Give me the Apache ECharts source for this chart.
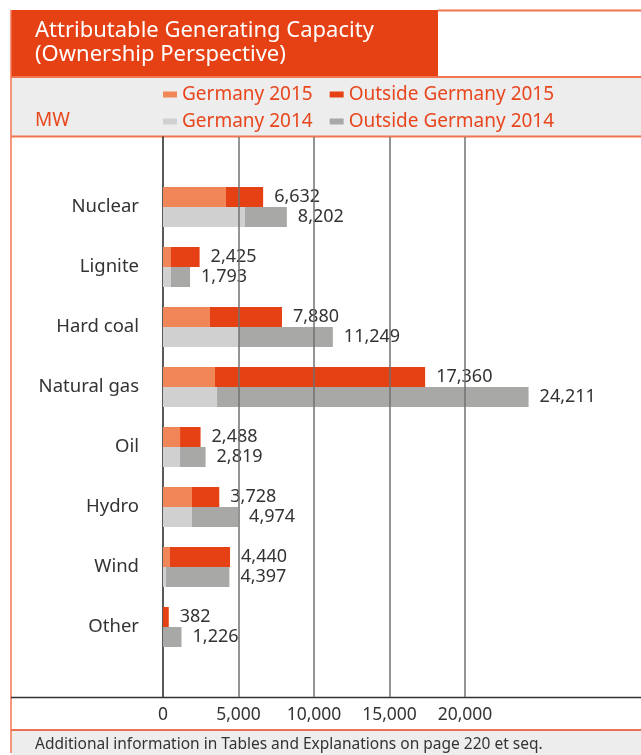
<!DOCTYPE html>
<html>
<head>
<meta charset="utf-8">
<script src="https://cdn.jsdelivr.net/npm/echarts@6/dist/echarts.min.js"></script>
<style>
  html, body { margin: 0; padding: 0; background: #fff; }
  #chart { width: 641px; height: 755px; }
</style>
</head>
<body>
<div id="chart"></div>
<script>
// capacity in MW
const categories = ["Nuclear", "Lignite", "Hard coal", "Natural gas", "Oil", "Hydro", "Wind", "Other"];
const germany2015 = [4170, 530, 3110, 3440, 1130, 1920, 460, 0];
const outside2015 = [2462, 1895, 4770, 13920, 1358, 1808, 3980, 382];
const germany2014 = [5430, 530, 5030, 3580, 1130, 1920, 200, 0];
const outside2014 = [2772, 1263, 6219, 20631, 1689, 3054, 4197, 1226];
const total2015 = [6632, 2425, 7880, 17360, 2488, 3728, 4440, 382];
const total2014 = [8202, 1793, 11249, 24211, 2819, 4974, 4397, 1226];
const gridTicks = [5000, 10000, 15000, 20000];

const font = "Noto Sans";
const orange = "#E64114";
const frame = "#F07550";
const axisMax = 31656;

const fmt = (v) => v.toLocaleString("en-US");

const valueLabel = (totals) => ({
  show: true,
  position: "right",
  distance: 8,
  fontFamily: font,
  fontSize: 18,
  color: "#333",
  backgroundColor: "#fff",
  padding: [1, 3],
  formatter: (p) => fmt(totals[p.dataIndex]),
});

const chart = echarts.init(document.getElementById("chart"));
chart.setOption({
  animation: false,
  textStyle: { fontFamily: font },
  title: {
    text: "Attributable Generating Capacity\n(Ownership Perspective)",
    left: 35,
    top: 19,
    padding: 0,
    textStyle: { color: "#fff", fontSize: 22, fontWeight: "normal", lineHeight: 24, fontFamily: font },
  },
  legend: [
    {
      data: ["Germany 2015", "Outside Germany 2015"],
      left: 163, top: 85, padding: 0,
      icon: "rect", itemWidth: 14, itemHeight: 6, itemGap: 17,
      textStyle: { color: "#E8461D", fontSize: 19, fontFamily: font },
    },
    {
      data: ["Germany 2014", "Outside Germany 2014"],
      left: 163, top: 112, padding: 0,
      icon: "rect", itemWidth: 14, itemHeight: 6, itemGap: 17,
      textStyle: { color: "#E8461D", fontSize: 19, fontFamily: font },
    },
  ],
  graphic: [
    { type: "rect", z: -10, shape: { x: 11, y: 10, width: 427, height: 67 }, style: { fill: orange } },
    { type: "rect", z: -10, shape: { x: 11, y: 77, width: 630, height: 59 }, style: { fill: "#EDEDED" } },
    { type: "rect", z: -10, shape: { x: 11, y: 730, width: 630, height: 25 }, style: { fill: "#EDEDED" } },
    { type: "line", z: -5, shape: { x1: 438, y1: 10.5, x2: 641, y2: 10.5 }, style: { stroke: frame, lineWidth: 2 } },
    { type: "line", z: -5, shape: { x1: 11, y1: 77, x2: 641, y2: 77 }, style: { stroke: frame, lineWidth: 2 } },
    { type: "line", z: -5, shape: { x1: 11, y1: 136.5, x2: 641, y2: 136.5 }, style: { stroke: frame, lineWidth: 2 } },
    { type: "line", z: -5, shape: { x1: 11, y1: 730, x2: 641, y2: 730 }, style: { stroke: "#E8461D", lineWidth: 1.5 } },
    { type: "line", z: -5, shape: { x1: 11, y1: 10, x2: 11, y2: 753 }, style: { stroke: frame, lineWidth: 1.5 } },
    { type: "line", z: 5, shape: { x1: 11, y1: 697.5, x2: 641, y2: 697.5 }, style: { stroke: "#333", lineWidth: 1.5 } },
    { type: "text", x: 35, y: 121, style: { text: "MW", fill: "#E8461D", fontSize: 19, fontFamily: font, verticalAlign: "middle" } },
    { type: "text", x: 35, y: 745, style: { text: "Additional information in Tables and Explanations on page 220 et seq.", fill: "#333", fontSize: 15.5, fontFamily: font, verticalAlign: "middle" } },
  ],
  grid: [
    { left: 163, right: 0, top: 177, bottom: 98 },
    { left: 163, right: 0, top: 137, bottom: 58 },
  ],
  xAxis: [
    { type: "value", min: 0, max: axisMax, show: false },
    {
      type: "value", gridIndex: 1, min: 0, max: axisMax, interval: 5000,
      axisLine: { show: false }, axisTick: { show: false }, splitLine: { show: false },
      axisLabel: {
        margin: 9, fontSize: 17.5, color: "#333", fontFamily: font, showMaxLabel: false,
        formatter: (v) => (v > 20000 ? "" : fmt(v)),
      },
    },
  ],
  yAxis: [
    {
      type: "category", data: categories, inverse: true,
      axisLine: { show: false }, axisTick: { show: false },
      axisLabel: { margin: 24, fontSize: 18.5, color: "#333", fontFamily: font },
    },
    {
      type: "value", gridIndex: 1, min: 0, max: 1,
      axisLine: { show: true, lineStyle: { color: "#222", width: 1.5 } },
      axisTick: { show: false }, axisLabel: { show: false }, splitLine: { show: false },
    },
  ],
  series: [
    {
      type: "line", xAxisIndex: 1, yAxisIndex: 1, z: 1, silent: true,
      data: [[0, 0]], showSymbol: false, lineStyle: { opacity: 0 },
      markLine: {
        silent: true, symbol: "none", label: { show: false },
        lineStyle: { color: "#707070", width: 1.5, type: "solid" },
        data: gridTicks.map((v) => ({ xAxis: v })),
      },
    },
    { name: "Germany 2015", type: "bar", stack: "y2015", z: 3, barWidth: 20, barGap: "0%", itemStyle: { color: "#F08657" }, data: germany2015 },
    { name: "Outside Germany 2015", type: "bar", stack: "y2015", z: 3, barWidth: 20, barGap: "0%", itemStyle: { color: "#E64114" }, label: valueLabel(total2015), data: outside2015 },
    { name: "Germany 2014", type: "bar", stack: "y2014", z: 3, barWidth: 20, barGap: "0%", itemStyle: { color: "#D0D0D0" }, data: germany2014 },
    { name: "Outside Germany 2014", type: "bar", stack: "y2014", z: 3, barWidth: 20, barGap: "0%", itemStyle: { color: "#A8A8A7" }, label: valueLabel(total2014), data: outside2014 },
  ],
});
</script>
</body>
</html>
